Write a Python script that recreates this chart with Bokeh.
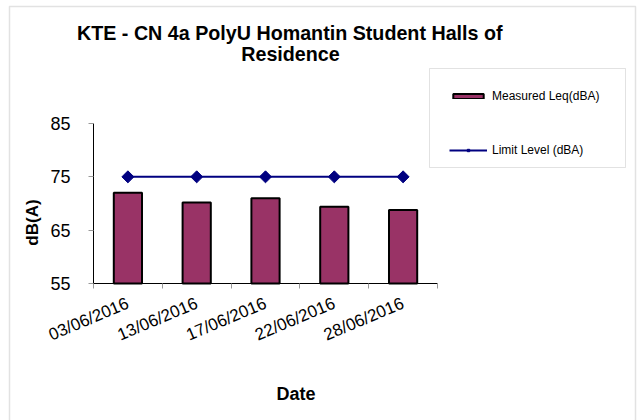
import numpy as np
from bokeh.plotting import figure
from bokeh.models import (Range1d, FixedTicker, Label, Legend, LegendItem,
                          BoxAnnotation, ColumnDataSource)
from bokeh.embed import file_html
from bokeh.resources import INLINE

# ---- data ----
dates = ["03/06/2016", "13/06/2016", "17/06/2016", "22/06/2016", "28/06/2016"]
measured = [72.0, 70.2, 71.0, 69.4, 68.8]
limit = [75, 75, 75, 75, 75]
y_ticks = [55, 65, 75, 85]
y_min, y_max = 55, 85
title_lines = ["KTE - CN 4a  PolyU Homantin Student Halls of", "Residence"]

FONT = "Liberation Sans"
W, H = 637, 420
# plot-area geometry in canvas pixels (layout only)
AX_L, AX_R, AX_T, AX_B = 93.0, 437.0, 123.0, 283.0
n = len(dates)
kx = (AX_R - AX_L) / n
ky = (AX_B - AX_T) / (y_max - y_min)

def px_x(px):
    return (px - AX_L) / kx

def px_y(py):
    return y_min + (AX_B - py) / ky

x = np.arange(n) + 0.5
src = ColumnDataSource(dict(x=x, measured=measured, limit=limit, date=dates))

p = figure(width=W, height=H, output_backend="svg", toolbar_location=None,
           x_range=Range1d(px_x(0), px_x(W)), y_range=Range1d(px_y(H), px_y(0)),
           min_border=0, min_border_left=0, min_border_right=0,
           min_border_top=0, min_border_bottom=0, title=None)
p.outline_line_color = None
p.xgrid.visible = False
p.ygrid.visible = False
p.background_fill_color = "white"
p.border_fill_color = "white"

bars = p.vbar(x="x", top="measured", bottom=y_min, width=0.41, source=src,
              fill_color="#993366", line_color="black", line_width=2)
ln = p.line(x="x", y="limit", source=src, line_color="#000080", line_width=2)
sc = p.scatter(x="x", y="limit", source=src, marker="square", angle=np.pi / 4,
               size=8.5, fill_color="#000080", line_color="#000080")

# x axis
xa = p.xaxis[0]
xa.fixed_location = y_min
xa.bounds = (0, n)
xa.ticker = FixedTicker(ticks=list(x), minor_ticks=list(range(n + 1)))
xa.major_label_overrides = {float(v): d for v, d in zip(x, dates)}
xa.major_label_orientation = 0.40
xa.major_tick_line_color = None
xa.major_tick_out = 0
xa.major_tick_in = 0
xa.minor_tick_out = 5
xa.minor_tick_in = 0
xa.minor_tick_line_color = "#999999"
xa.major_label_standoff = 14
xa.major_label_text_font = FONT
xa.major_label_text_font_size = "17px"
xa.major_label_text_color = "black"
xa.axis_line_color = "black"

# y axis
ya = p.yaxis[0]
ya.fixed_location = 0
ya.bounds = (y_min, y_max)
ya.ticker = FixedTicker(ticks=y_ticks)
ya.major_tick_out = 5
ya.major_tick_in = 0
ya.minor_tick_line_color = None
ya.major_tick_line_color = "#999999"
ya.major_label_standoff = 18
ya.major_label_text_font = FONT
ya.major_label_text_font_size = "18px"
ya.major_label_text_color = "black"
ya.axis_line_color = "black"

def add_label(cx, cy, text, size, angle=0.0):
    p.add_layout(Label(x=px_x(cx), y=px_y(cy), text=text, angle=angle,
                       text_align="center", text_baseline="middle",
                       text_font=FONT, text_font_size=size,
                       text_font_style="bold", text_color="black"))

add_label(292, 32, title_lines[0], "19.7px")
add_label(290, 53, title_lines[1], "19.7px")
add_label(32, 222, "dB(A)", "17px", np.pi / 2)
add_label(295.5, 393, "Date", "18px")

# outer chart border (bottom edge lies outside the window)
p.add_layout(BoxAnnotation(left=px_x(9), right=px_x(635), top=px_y(6),
                           bottom=px_y(H + 20), fill_color=None, fill_alpha=0,
                           line_color="#a0a0a0", line_width=1.5))

# legend frame
p.add_layout(BoxAnnotation(left=px_x(429), right=px_x(625), top=px_y(68),
                           bottom=px_y(167), fill_color="white", fill_alpha=1,
                           line_color="#a0a0a0", line_width=1))

legend = Legend(items=[LegendItem(label="Measured Leq(dBA)", renderers=[bars]),
                       LegendItem(label="Limit Level (dBA)", renderers=[ln, sc])],
                location=(449, H - 162), orientation="vertical",
                padding=10, spacing=30, glyph_width=38, glyph_height=6,
                label_height=24, label_width=110, label_standoff=5,
                label_text_font=FONT, label_text_font_size="12px",
                label_text_color="black",
                border_line_color=None, background_fill_alpha=0,
                margin=0)
p.add_layout(legend, "center")

open("out.html", "w").write(file_html(p, INLINE))
